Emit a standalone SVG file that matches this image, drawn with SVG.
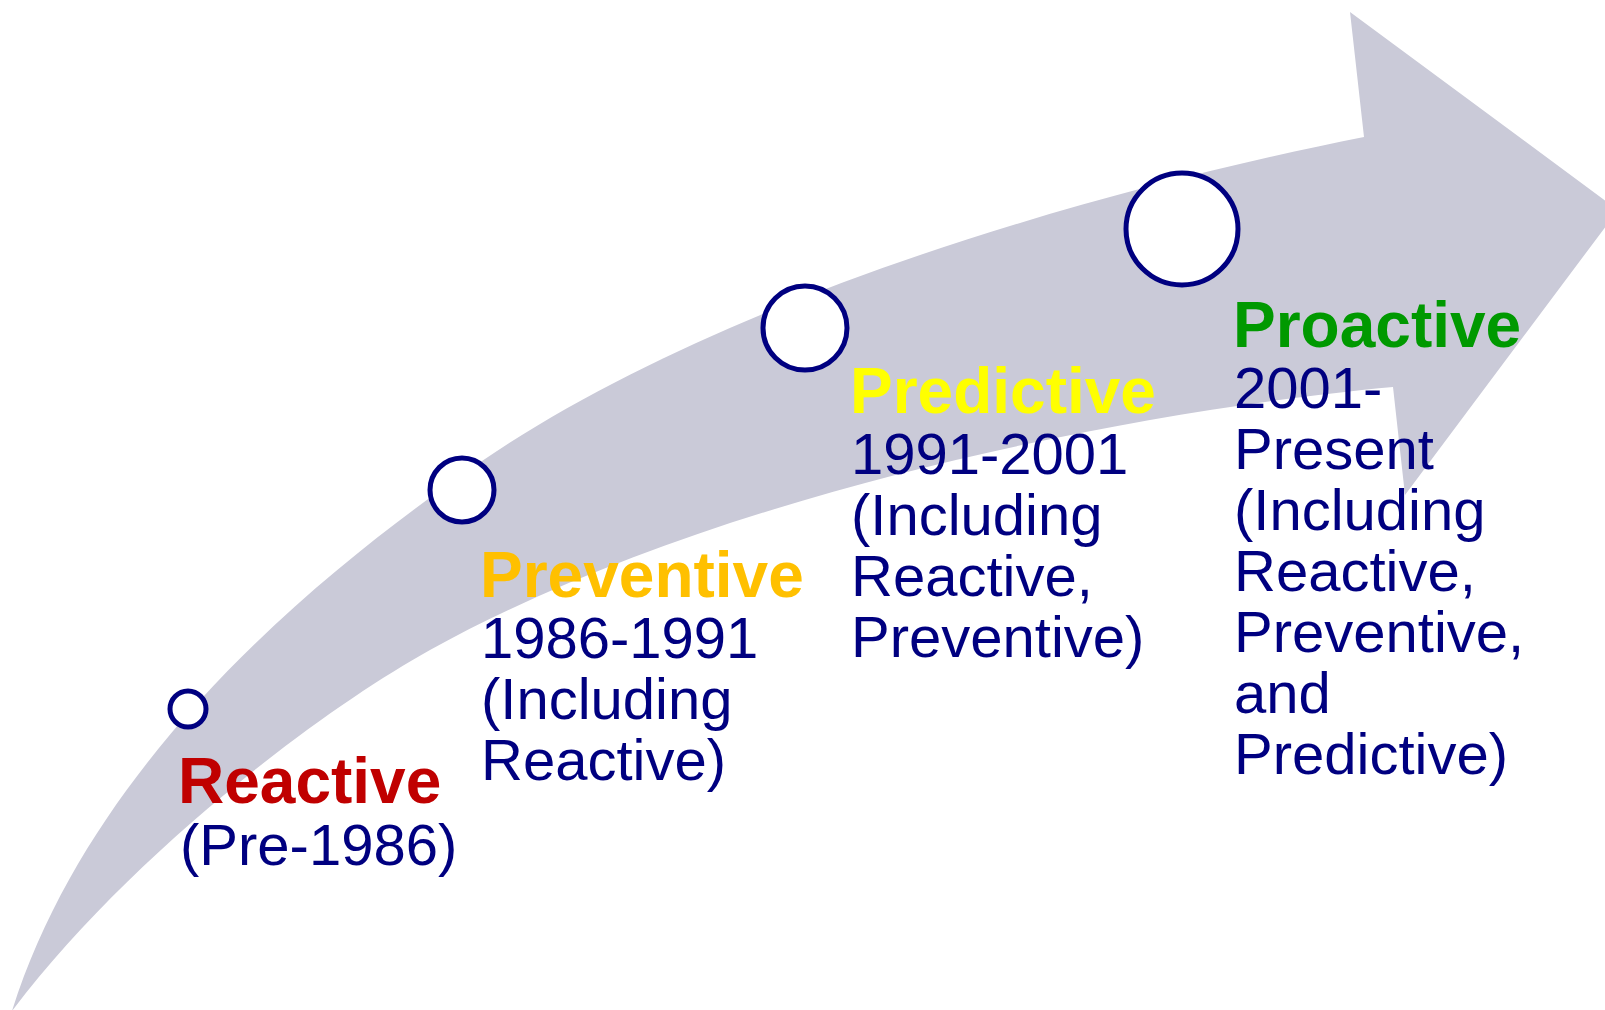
<svg xmlns="http://www.w3.org/2000/svg" width="1605" height="1010" viewBox="0 0 1605 1010">
  <style>
    .band { fill: #CACAD8; stroke: none; }
    .stage { fill: #FFFFFF; stroke: #000080; stroke-width: 5; }
    .title { font-family: "Liberation Sans", Arial, sans-serif; font-weight: bold; font-size: 64px; }
    .body { font-family: "Liberation Sans", Arial, sans-serif; font-size: 58px; fill: #000080; }
  </style>
  <rect width="1605" height="1010" fill="#FFFFFF"/>

  <!-- curved timeline arrow -->
  <g id="timeline-arrow">
    <path class="band" d="M 12 1011
      C 93 754, 330 565, 482 461
      C 732 291, 1114 187, 1364 137
      L 1350 12
      L 1618 210
      L 1405 495
      L 1393 387
      C 1143 410, 720 490, 430 650
      C 320 711, 130 855, 12 1011 Z"/>
  </g>

  <!-- no connectors: stages sit directly on the arrow -->
  <g id="connectors"></g>

  <g id="stage-reactive">
    <circle class="stage" cx="188" cy="709" r="18"/>
    <text class="title" x="178" y="803" fill="#C00000">Reactive</text>
    <text class="body" x="180" y="865">(Pre-1986)</text>
  </g>

  <g id="stage-preventive">
    <circle class="stage" cx="462" cy="490" r="32"/>
    <text class="title" x="480" y="597" fill="#FFC000">Preventive</text>
    <text class="body" x="481" y="658">1986-1991</text>
    <text class="body" x="481" y="719">(Including</text>
    <text class="body" x="481" y="780">Reactive)</text>
  </g>

  <g id="stage-predictive">
    <circle class="stage" cx="805" cy="328" r="42"/>
    <text class="title" x="850" y="413" fill="#FFFF00">Predictive</text>
    <text class="body" x="851" y="474">1991-2001</text>
    <text class="body" x="851" y="535">(Including</text>
    <text class="body" x="851" y="596">Reactive,</text>
    <text class="body" x="851" y="657">Preventive)</text>
  </g>

  <g id="stage-proactive">
    <circle class="stage" cx="1182" cy="229" r="56"/>
    <text class="title" x="1233" y="347" fill="#009900">Proactive</text>
    <text class="body" x="1234" y="408">2001-</text>
    <text class="body" x="1234" y="469">Present</text>
    <text class="body" x="1234" y="530">(Including</text>
    <text class="body" x="1234" y="591">Reactive,</text>
    <text class="body" x="1234" y="652">Preventive,</text>
    <text class="body" x="1234" y="713">and</text>
    <text class="body" x="1234" y="774">Predictive)</text>
  </g>
</svg>
